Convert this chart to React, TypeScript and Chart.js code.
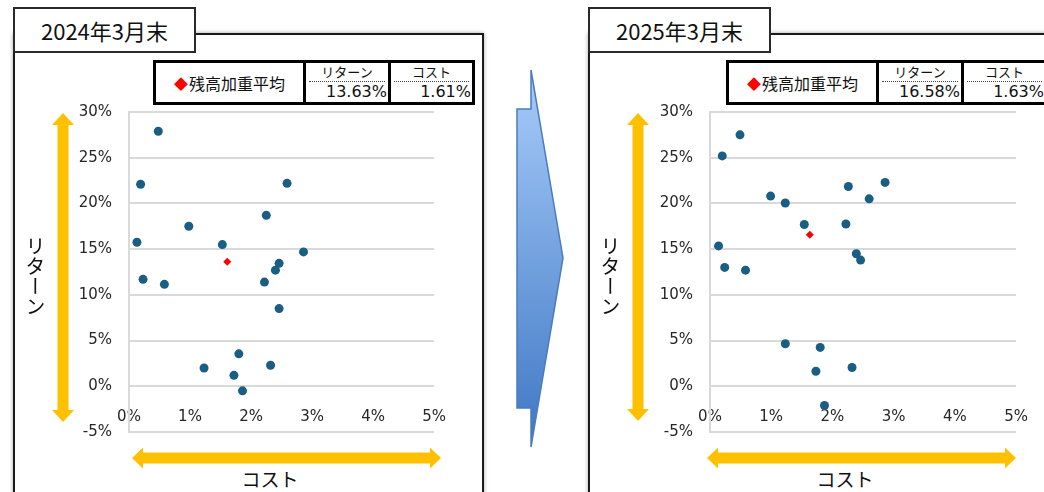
import React, { useEffect, useRef } from "react";
import { Chart, registerables } from "chart.js";

Chart.register(...registerables);

// Fund cost (%) and return (%) at the end of March 2024
const cost2024 = [0.48, 0.19, 2.59, 2.25, 0.98, 0.13, 1.53, 2.86, 2.46, 2.4, 0.23, 0.58, 2.22, 2.46, 1.8, 1.23, 2.32, 1.72, 1.86];
const return2024 = [27.9, 22.1, 22.2, 18.7, 17.5, 15.75, 15.5, 14.7, 13.45, 12.7, 11.7, 11.15, 11.4, 8.5, 3.55, 2.0, 2.3, 1.2, -0.5];

// Fund cost (%) and return (%) at the end of March 2025
const cost2025 = [0.49, 0.2, 0.99, 1.23, 2.26, 2.86, 2.6, 1.54, 2.22, 0.14, 2.39, 2.46, 0.24, 0.58, 1.23, 1.8, 1.73, 2.32, 1.87];
const return2025 = [27.5, 25.2, 20.8, 20.05, 21.85, 22.3, 20.5, 17.7, 17.75, 15.35, 14.5, 13.8, 13.0, 12.7, 4.65, 4.25, 1.65, 2.05, -2.1];

// Balance-weighted averages
const avgCost2024 = 1.61;
const avgReturn2024 = 13.63;
const avgCost2025 = 1.63;
const avgReturn2025 = 16.58;

// Axis ticks
const costTicks = [0, 1, 2, 3, 4, 5];
const returnTicks = [-5, 0, 5, 10, 15, 20, 25, 30];

const periodLabels = ["2024年3月末", "2025年3月末"];

const JP = "'Noto Sans CJK JP', 'Noto Sans', sans-serif";
const NUM = "'DejaVu Sans', sans-serif";
const YELLOW = "#FFC000";

type ScatterProps = {
  costs: number[];
  returns: number[];
  avgCost: number;
  avgReturn: number;
  left: number;
  width: number;
};

function ScatterChart({ costs, returns, avgCost, avgReturn, left, width }: ScatterProps) {
  const ref = useRef<HTMLCanvasElement | null>(null);

  useEffect(() => {
    if (!ref.current) return;
    const points = costs.map((c, i) => ({ x: c, y: returns[i] }));
    const tickFont = { family: NUM, size: 15 };
    const chart = new Chart(ref.current, {
      type: "scatter",
      data: {
        datasets: [
          {
            data: [{ x: avgCost, y: avgReturn }],
            pointStyle: "rectRot",
            pointRadius: 4,
            backgroundColor: "#FF0000",
            borderWidth: 0,
            order: 0,
          },
          {
            data: points,
            pointRadius: 4.5,
            backgroundColor: "#1B5E83",
            borderWidth: 0,
            order: 1,
          },
        ],
      },
      options: {
        animation: false,
        responsive: false,
        maintainAspectRatio: false,
        events: [],
        layout: { padding: { left: 0, top: 10, right: 20, bottom: 10 } },
        plugins: { legend: { display: false }, tooltip: { enabled: false } },
        scales: {
          x: {
            type: "linear",
            position: { y: 0 },
            min: costTicks[0],
            max: costTicks[costTicks.length - 1],
            ticks: {
              stepSize: 1,
              padding: 14,
              font: tickFont,
              color: "#262626",
              callback: (v: any) => `${v}%`,
            },
            grid: { display: false },
            border: { display: false },
          },
          y: {
            type: "linear",
            position: "left",
            min: returnTicks[0],
            max: returnTicks[returnTicks.length - 1],
            afterFit: (s: any) => {
              s.width = 109;
            },
            ticks: {
              stepSize: 5,
              padding: 17,
              font: tickFont,
              color: "#262626",
              callback: (v: any) => `${v}%`,
            },
            grid: { color: "#D9D9D9", lineWidth: 2, drawTicks: false },
            border: { color: "#D9D9D9", width: 2 },
          },
        },
      } as any,
    });
    return () => chart.destroy();
  }, [costs, returns, avgCost, avgReturn]);

  // the y-axis label padding adds 26px above and below the plot area
  return (
    <canvas
      ref={ref}
      width={width}
      height={372}
      style={{ position: "absolute", left, top: 86, width, height: 372 }}
    />
  );
}

type PanelProps = {
  panelLeft: number;
  tableLeft: number;
  title: string;
  avgCost: number;
  avgReturn: number;
  costLabelX: number;
};

function PanelText({ panelLeft, tableLeft, title, avgCost, avgReturn, costLabelX }: PanelProps) {
  const cell1 = 150;
  const cell2 = 85;
  const tableW = 322;
  return (
    <>
      {/* tab with period */}
      <div
        style={{
          position: "absolute",
          left: panelLeft,
          top: 7,
          width: 183,
          height: 46,
          boxSizing: "border-box",
          border: "2px solid #2a2a2a",
          background: "#fff",
          display: "flex",
          alignItems: "center",
          justifyContent: "center",
          font: `22px ${JP}`,
          color: "#111",
        }}
      >
        {title}
      </div>

      {/* weighted-average table */}
      <div
        style={{
          position: "absolute",
          left: tableLeft,
          top: 60,
          width: tableW,
          height: 45,
          boxSizing: "border-box",
          border: "3px solid #000",
          background: "#fff",
        }}
      >
        <div style={{ position: "absolute", left: cell1 - 3, top: 0, width: 3, height: "100%", background: "#000" }} />
        <div style={{ position: "absolute", left: cell1 + cell2 - 3, top: 0, width: 3, height: "100%", background: "#000" }} />
        <div
          style={{
            position: "absolute",
            left: 0,
            top: 0,
            width: cell1 - 3,
            height: "100%",
            display: "flex",
            alignItems: "center",
            justifyContent: "center",
            font: `16px ${JP}`,
            color: "#111",
          }}
        >
          <span style={{ color: "#FF0000", fontSize: 14, marginRight: 1 }}>◆</span>残高加重平均
        </div>
        {[
          { x: cell1, w: cell2 - 3, head: "リターン", val: `${avgReturn.toFixed(2)}%` },
          { x: cell1 + cell2, w: tableW - 6 - cell1 - cell2, head: "コスト", val: `${avgCost.toFixed(2)}%` },
        ].map((c) => (
          <div key={c.head} style={{ position: "absolute", left: c.x, top: 0, width: c.w, height: "100%" }}>
            <div
              style={{
                position: "absolute",
                left: 0,
                top: 1,
                width: "100%",
                textAlign: "center",
                font: `13px ${JP}`,
                lineHeight: "16px",
                color: "#111",
              }}
            >
              {c.head}
            </div>
            <div
              style={{
                position: "absolute",
                left: 3,
                right: 3,
                top: 18,
                borderTop: "1.5px dotted #444",
              }}
            />
            <div
              style={{
                position: "absolute",
                right: 1,
                top: 19,
                font: `16px ${NUM}`,
                lineHeight: "20px",
                color: "#111",
                whiteSpace: "nowrap",
              }}
            >
              {c.val}
            </div>
          </div>
        ))}
      </div>

      {/* axis titles */}
      <div
        style={{
          position: "absolute",
          left: panelLeft + 11,
          top: 236,
          writingMode: "vertical-rl",
          font: `20px ${JP}`,
          lineHeight: "22px",
          color: "#111",
        }}
      >
        リターン
      </div>
      <div
        style={{
          position: "absolute",
          left: costLabelX - 40,
          width: 80,
          top: 466,
          textAlign: "center",
          font: `19px ${JP}`,
          lineHeight: "26px",
          color: "#111",
        }}
      >
        コスト
      </div>
    </>
  );
}

function vArrow(cx: number, top: number, bottom: number) {
  const s = 5.5;
  const h = 11;
  const hl = 12;
  return `${cx},${top} ${cx + h},${top + hl} ${cx + s},${top + hl} ${cx + s},${bottom - hl} ${cx + h},${bottom - hl} ${cx},${bottom} ${cx - h},${bottom - hl} ${cx - s},${bottom - hl} ${cx - s},${top + hl} ${cx - h},${top + hl}`;
}

function hArrow(cy: number, left: number, right: number) {
  const s = 5.5;
  const h = 10.5;
  const hl = 11;
  return `${left},${cy} ${left + hl},${cy - h} ${left + hl},${cy - s} ${right - hl},${cy - s} ${right - hl},${cy - h} ${right},${cy} ${right - hl},${cy + h} ${right - hl},${cy + s} ${left + hl},${cy + s} ${left + hl},${cy + h}`;
}

export default function App() {
  return (
    <div
      style={{
        position: "absolute",
        left: 0,
        top: 0,
        width: 1044,
        height: 492,
        overflow: "hidden",
        background: "#fff",
      }}
    >
      {/* panel frames */}
      <div
        style={{
          position: "absolute",
          left: 13,
          top: 33,
          width: 471,
          height: 520,
          boxSizing: "border-box",
          border: "2px solid #1a1a1a",
          boxShadow: "0 0 4px rgba(0,0,0,0.35)",
        }}
      />
      <div
        style={{
          position: "absolute",
          left: 588,
          top: 33,
          width: 520,
          height: 520,
          boxSizing: "border-box",
          border: "2px solid #1a1a1a",
          boxShadow: "0 0 4px rgba(0,0,0,0.35)",
        }}
      />

      <svg width={1044} height={492} style={{ position: "absolute", left: 0, top: 0 }}>
        <defs>
          <linearGradient id="flow" x1="0" y1="0" x2="0" y2="1">
            <stop offset="0" stopColor="#A8CCFA" />
            <stop offset="1" stopColor="#3F77C4" />
          </linearGradient>
        </defs>
        <polygon
          points="531,70 563,258 531,447 531,408 517,408 517,109 531,109"
          fill="url(#flow)"
          stroke="#4A7EBB"
          strokeWidth={1.5}
        />
        <polygon points={vArrow(63, 113, 422)} fill={YELLOW} />
        <polygon points={hArrow(458, 132, 441)} fill={YELLOW} />
        <polygon points={vArrow(638, 113, 421)} fill={YELLOW} />
        <polygon points={hArrow(458, 707, 1016)} fill={YELLOW} />
      </svg>

      <ScatterChart costs={cost2024} returns={return2024} avgCost={avgCost2024} avgReturn={avgReturn2024} left={20} width={440} />
      <ScatterChart costs={cost2025} returns={return2025} avgCost={avgCost2025} avgReturn={avgReturn2025} left={601} width={441} />

      <PanelText
        panelLeft={13}
        tableLeft={153}
        title={periodLabels[0]}
        avgCost={avgCost2024}
        avgReturn={avgReturn2024}
        costLabelX={270}
      />
      <PanelText
        panelLeft={588}
        tableLeft={726}
        title={periodLabels[1]}
        avgCost={avgCost2025}
        avgReturn={avgReturn2025}
        costLabelX={845}
      />
    </div>
  );
}
